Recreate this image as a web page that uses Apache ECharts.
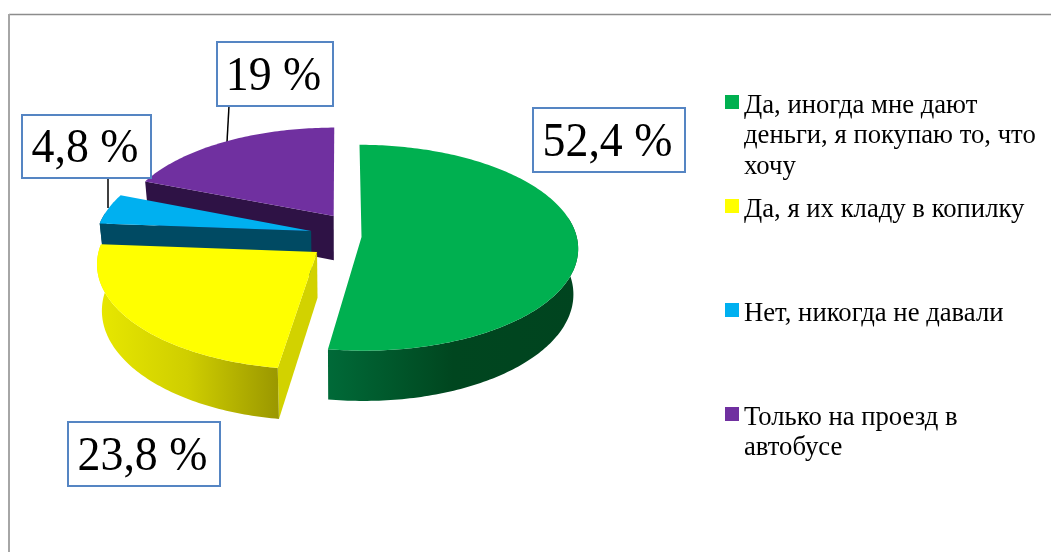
<!DOCTYPE html>
<html>
<head>
<meta charset="utf-8">
<style>html,body{margin:0;padding:0;background:#fff}#main{width:1051px;height:552px}</style>
<script src="https://cdn.jsdelivr.net/npm/echarts@6/dist/echarts.min.js"></script>
</head>
<body>
<div id="main"></div>
<script>
// доли ответов
var categories = ['Да, иногда мне дают\nденьги, я покупаю то, что\nхочу', 'Да, я их кладу в копилку', 'Нет, никогда не давали', 'Только на проезд в\nавтобусе'];
var values = [52.4, 23.8, 4.8, 19];
var colors = ['#00b050', '#ffff00', '#00b0f0', '#7030a0'];

// оформление: боковые грани
var cutColors = [null, '#d2d200', '#004a63', '#2e1245'];
var rimColors = [['#006a38', '#00461f', '#00441f'], ['#e8e800', '#cfce00', '#9a9700'], ['#004a63', '#004a63', '#004a63'], ['#2e1245', '#2e1245', '#2e1245']];
// смещение секторов от центра, в долях радиуса
var explode = [[0.1, -0.01], [-0.105, -0.155], [-0.135, 0.05], [-0.03, 0.2]];
// рамки подписей: left, top, width и конец выноски
var boxes = [[533, 108, 152, 64], [68, 422, 152, 64], [22, 115, 129, 63], [217, 42, 116, 64]];
var leaders = [null, null, [108, 178, 108, 208], [229, 106, 227, 142]];
var legendTops = [102, 206, 310, 414];

var CX = 340, CY = 236, RX = 215, RY = 101.6, PERSP = 0.104, DEPTH = 45, BOTTOM_SCALE = 0.98;
var LINE_H = 30.5, TEXT_SHIFT = 7;
var total = values.reduce(function (a, b) { return a + b; }, 0);

function project(u, v, bottom) {
    var s = 1 / (1 + PERSP * v);
    var x = RX * u * s, y = -RY * v * s;
    if (bottom) {
        x = x * BOTTOM_SCALE;
        y = y + DEPTH * s;
    }
    return [CX + x, CY + y];
}

function sliceShapes(i, value) {
    var before = 0;
    for (var k = 0; k < i; k++) before += values[k];
    var a0 = before / total * Math.PI * 2, a1 = (before + value) / total * Math.PI * 2;
    var ax = explode[i][0], az = explode[i][1];
    var steps = Math.ceil((a1 - a0) * 60);
    var topRim = [], frontTop = [], frontBottom = [];
    for (var n = 0; n <= steps; n++) {
        var a = a0 + (a1 - a0) * n / steps;
        topRim.push(project(ax + Math.sin(a), az + Math.cos(a), false));
        // задняя часть обода не видна
        if (Math.cos(a) < 0.2) {
            frontTop.push(project(ax + Math.sin(a), az + Math.cos(a), false));
            frontBottom.push(project(ax + Math.sin(a), az + Math.cos(a), true));
        }
    }
    var apexTop = project(ax, az, false), apexBottom = project(ax, az, true);
    var s0 = project(ax + Math.sin(a0), az + Math.cos(a0), true);
    return {
        top: [apexTop].concat(topRim),
        rim: frontTop.concat(frontBottom.reverse()),
        cut: [apexTop, topRim[0], s0, apexBottom]
    };
}

function renderSlice(i) {
    return function (params, api) {
        var value = api.value(0);
        var shapes = sliceShapes(i, value);
        var rc = rimColors[i];
        var rimFill = new echarts.graphic.LinearGradient(0, 0, 1, 0, [
            { offset: 0, color: rc[0] }, { offset: 0.5, color: rc[1] }, { offset: 1, color: rc[2] }
        ]);
        var children = [];
        if (leaders[i]) {
            var l = leaders[i];
            children.push({ type: 'line', shape: { x1: l[0], y1: l[1], x2: l[2], y2: l[3] }, style: { stroke: '#000', lineWidth: 1.5 } });
        }
        if (cutColors[i]) {
            children.push({ type: 'polygon', shape: { points: shapes.cut }, style: { fill: cutColors[i] } });
        }
        if (shapes.rim.length) {
            children.push({ type: 'polygon', shape: { points: shapes.rim }, style: { fill: rimFill } });
        }
        children.push({ type: 'polygon', shape: { points: shapes.top }, style: { fill: colors[i] } });
        var b = boxes[i];
        children.push({ type: 'rect', shape: { x: b[0], y: b[1], width: b[2], height: b[3] }, style: { fill: '#fff', stroke: '#5585c3', lineWidth: 2 } });
        children.push({
            type: 'text',
            x: b[0] + b[2] / 2 - 1.5,
            y: b[1] + b[3] / 2 + 3,
            scaleX: 0.955,
            style: {
                x: 0, y: 0,
                text: String(value).replace('.', ',') + ' %',
                align: 'center', verticalAlign: 'middle',
                font: '48px "Liberation Serif"', fill: '#000'
            }
        });
        return { type: 'group', children: children };
    };
}

// рисуем от дальних секторов к ближним
var drawOrder = [3, 2, 1, 0];
var series = drawOrder.map(function (i) {
    return {
        type: 'custom',
        name: categories[i],
        coordinateSystem: 'none',
        renderItem: renderSlice(i),
        data: [[values[i]]],
        itemStyle: { color: colors[i] },
        animation: false,
        silent: true
    };
});

var legends = categories.map(function (name, i) {
    var parts = name.split('\n');
    var lines = parts.length;
    return {
        data: [name],
        left: 725,
        top: legendTops[i] - (LINE_H * (2 * lines - 1) + TEXT_SHIFT) / 2,
        orient: 'vertical',
        padding: 0,
        icon: 'rect',
        itemWidth: 14,
        itemHeight: 14,
        selectedMode: false,
        // пустые строки сверху: значок остаётся напротив первой строки
        formatter: function () {
            var rows = ['{p| }'];
            for (var k = 1; k < lines; k++) rows.push('{t| }');
            parts.forEach(function (s) { rows.push('{t|' + s + '}'); });
            return rows.join('\n');
        },
        textStyle: {
            rich: {
                p: { fontSize: 1, lineHeight: TEXT_SHIFT, height: TEXT_SHIFT },
                t: { fontFamily: 'Liberation Serif', fontSize: 26.7, lineHeight: LINE_H, height: LINE_H, color: '#000' }
            }
        }
    };
});

var myChart = echarts.init(document.getElementById('main'));
var option = {
    animation: false,
    backgroundColor: '#fff',
    legend: legends,
    graphic: [
        { type: 'line', shape: { x1: 9, y1: 14.5, x2: 1051, y2: 14.5 }, style: { stroke: '#8c8c8c', lineWidth: 1.5 } },
        { type: 'line', shape: { x1: 9, y1: 14, x2: 9, y2: 552 }, style: { stroke: '#a6a6a6', lineWidth: 2 } }
    ],
    series: series
};
myChart.setOption(option);
</script>
</body>
</html>
